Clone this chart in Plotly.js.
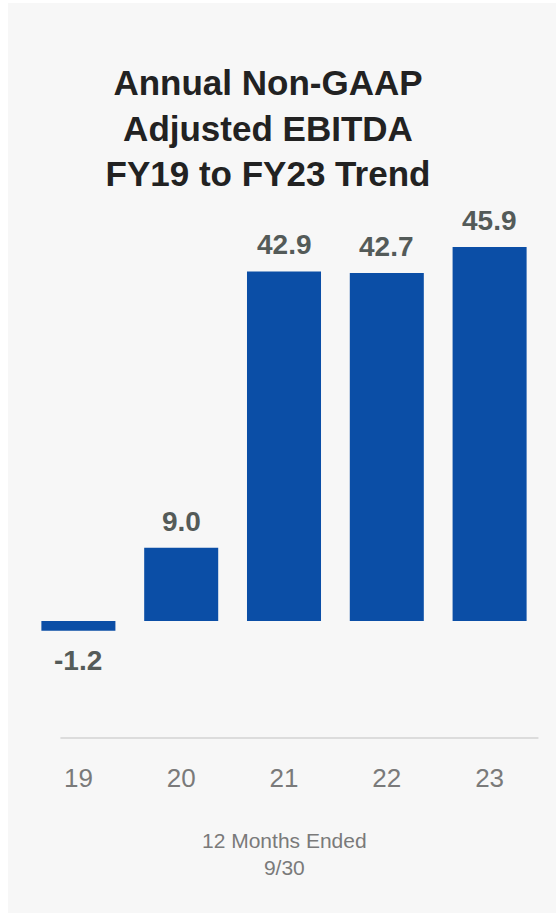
<!DOCTYPE html>
<html>
<head>
<meta charset="utf-8">
<script src="https://cdn.plot.ly/plotly-3.0.1.min.js"></script>
<style>
  html, body { margin: 0; padding: 0; background: #ffffff; }
  #panel { position: absolute; left: 8px; top: 3px; width: 548px; height: 910px; background: #f7f7f7; }
  #chart { position: absolute; left: 0; top: 0; width: 556px; height: 917px; }
</style>
</head>
<body>
<div id="panel"></div>
<div id="chart"></div>
<script>
const categories = ["19", "20", "21", "22", "23"];
const values = [-1.2, 9.0, 42.9, 42.7, 45.9];
const valueLabels = ["-1.2", "9.0", "42.9", "42.7", "45.9"];
const titleText = "Annual Non-GAAP<br>Adjusted EBITDA<br>FY19 to FY23 Trend";
const subtitleText = "12 Months Ended<br>9/30";

const FONT = "'Liberation Sans', Arial, Helvetica, sans-serif";

const trace = {
  type: "bar",
  x: categories,
  y: values,
  marker: { color: "#0b4ea6", line: { width: 0 } },
  hoverinfo: "skip"
};

const labelAnns = categories.map((c, i) => ({
  x: i,
  y: values[i],
  xref: "x",
  yref: "y",
  text: "<b>" + valueLabels[i] + "</b>",
  showarrow: false,
  xanchor: "center",
  yanchor: values[i] >= 0 ? "bottom" : "top",
  yshift: values[i] >= 0 ? 9 : -12,
  font: { family: FONT, size: 28, color: "#545b59" }
}));

const layout = {
  width: 556,
  height: 917,
  margin: { l: 26.5, r: 14.5, t: 230, b: 179 },
  paper_bgcolor: "rgba(0,0,0,0)",
  plot_bgcolor: "rgba(0,0,0,0)",
  bargap: 0.28,
  showlegend: false,
  title: {
    text: "<b>" + titleText + "</b>",
    x: 0.482,
    xref: "container",
    xanchor: "center",
    y: 1 - 95 / 917,
    yref: "container",
    yanchor: "top",
    font: { family: FONT, size: 35, color: "#222222" }
  },
  xaxis: {
    type: "category",
    range: [-0.5, 4.5],
    showline: false,
    showgrid: false,
    zeroline: false,
    ticks: "",
    ticklabelstandoff: 22,
    tickfont: { family: FONT, size: 26, color: "#7a7a7a" },
    fixedrange: true
  },
  yaxis: {
    range: [-14.36, 47.98],
    showgrid: false,
    zeroline: false,
    showline: false,
    showticklabels: false,
    ticks: "",
    fixedrange: true
  },
  shapes: [{
    type: "line",
    xref: "paper",
    yref: "paper",
    x0: 0.065,
    x1: 0.995,
    y0: 0,
    y1: 0,
    line: { color: "#dcdcdc", width: 2 }
  }],
  annotations: labelAnns.concat([{
    x: 0.5,
    y: -0.175,
    xref: "paper",
    yref: "paper",
    xanchor: "center",
    yanchor: "top",
    text: subtitleText,
    showarrow: false,
    align: "center",
    font: { family: FONT, size: 21, color: "#7a7a7a" }
  }])
};

Plotly.newPlot("chart", [trace], layout, { displayModeBar: false, staticPlot: true });
</script>
</body>
</html>
